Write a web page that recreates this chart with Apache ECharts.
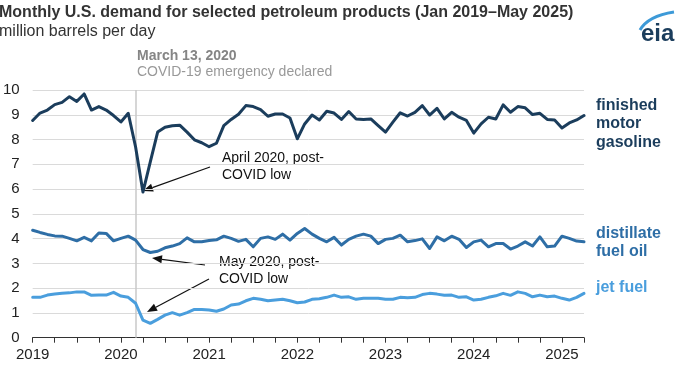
<!DOCTYPE html>
<html>
<head>
<meta charset="utf-8">
<script src="https://cdn.jsdelivr.net/npm/echarts@6/dist/echarts.min.js"></script>
<style>html,body{margin:0;padding:0;background:#fff}#c{width:678px;height:381px}</style>
</head>
<body>
<div id="c"></div>
<script>
// Categories: monthly, Jan 2019 – Apr 2025
const months = [];
for (let y = 2019; y <= 2025; y++) {
  for (let m = 1; m <= 12; m++) {
    if (y === 2025 && m > 4) break;
    months.push(y + '-' + (m < 10 ? '0' + m : m));
  }
}
const yTicks = [0,1,2,3,4,5,6,7,8,9,10];

const gasoline = [8.77,9.07,9.19,9.41,9.50,9.73,9.54,9.84,9.19,9.33,9.19,8.97,
  8.71,9.06,7.70,5.88,7.10,8.30,8.50,8.56,8.58,8.30,7.99,7.87,
  7.71,7.85,8.56,8.81,9.02,9.37,9.33,9.21,8.94,9.03,9.03,8.87,
  8.03,8.63,8.99,8.79,9.14,9.07,8.81,9.13,8.83,8.81,8.83,8.56,
  8.30,8.70,9.08,8.95,9.10,9.37,8.99,9.26,8.83,9.10,8.90,8.77,
  8.26,8.63,8.90,8.83,9.40,9.10,9.33,9.28,9.01,9.06,8.81,8.79,
  8.47,8.67,8.79,8.97];
const distillate = [4.34,4.25,4.17,4.11,4.10,4.01,3.91,4.05,3.91,4.23,4.21,3.91,
  4.01,4.10,3.94,3.56,3.44,3.49,3.63,3.70,3.80,4.03,3.87,3.87,
  3.92,3.95,4.10,4.01,3.89,3.97,3.67,4.01,4.07,3.97,4.18,3.94,
  4.21,4.41,4.18,4.01,3.87,4.05,3.74,3.97,4.10,4.18,4.10,3.80,
  3.97,4.01,4.14,3.87,3.92,3.99,3.60,4.07,3.91,4.10,3.97,3.64,
  3.87,3.94,3.67,3.80,3.80,3.58,3.70,3.87,3.70,4.07,3.67,3.70,
  4.10,4.01,3.90,3.87];
const jetFuel = [1.63,1.63,1.72,1.76,1.79,1.81,1.85,1.85,1.71,1.72,1.72,1.83,
  1.68,1.63,1.39,0.71,0.58,0.74,0.91,1.01,0.91,1.01,1.14,1.14,
  1.12,1.07,1.16,1.32,1.36,1.49,1.59,1.55,1.49,1.52,1.55,1.49,
  1.41,1.44,1.55,1.57,1.63,1.72,1.63,1.65,1.55,1.59,1.59,1.59,
  1.55,1.55,1.63,1.61,1.63,1.74,1.79,1.76,1.71,1.72,1.63,1.65,
  1.52,1.55,1.63,1.69,1.79,1.71,1.85,1.79,1.65,1.72,1.65,1.68,
  1.59,1.52,1.63,1.79];

const covidMonth = '2020-03';
const C_GAS = '#1b3d5c', C_DIST = '#2e6ea6', C_JET = '#4a9edd';
const FONT = 'Liberation Sans, Arial, sans-serif';

function arrow(x1, y1, x2, y2) {
  const a = Math.atan2(y2 - y1, x2 - x1), L = 10, W = 4;
  const bx = x2 - L * Math.cos(a), by = y2 - L * Math.sin(a);
  const px = -Math.sin(a) * W, py = Math.cos(a) * W;
  return [
    { type: 'line', shape: { x1: x1, y1: y1, x2: bx, y2: by }, style: { stroke: '#111', lineWidth: 1.2 } },
    { type: 'polygon', shape: { points: [[x2, y2], [bx + px, by + py], [bx - px, by - py]] }, style: { fill: '#111' } }
  ];
}

const chart = echarts.init(document.getElementById('c'));
const line = (name, data, color) => ({
  name, type: 'line', data, showSymbol: false, symbol: 'none', smooth: false,
  lineStyle: { color, width: 3, join: 'round', cap: 'round' }, itemStyle: { color }, z: 3
});

chart.setOption({
  animation: false,
  textStyle: { fontFamily: FONT },
  title: {
    text: 'Monthly U.S. demand for selected petroleum products (Jan 2019–May 2025)',
    subtext: 'million barrels per day',
    left: -1, top: 5, padding: 0, itemGap: 3,
    textStyle: { fontSize: 16, fontWeight: 'bold', color: '#333', fontFamily: FONT },
    subtextStyle: { fontSize: 16, color: '#333', fontFamily: FONT }
  },
  grid: { left: 30.7, right: 94, top: 90, bottom: 43.3, containLabel: false },
  xAxis: {
    type: 'category', data: months, boundaryGap: false,
    axisLine: { lineStyle: { color: '#333', width: 1.2 } },
    axisTick: { show: true, interval: (i) => i % 3 === 0, length: 5, lineStyle: { color: '#333' } },
    axisLabel: { interval: (i) => i % 12 === 0, formatter: (v) => v.slice(0, 4), fontSize: 15, color: '#222', margin: 10, fontFamily: FONT },
    splitLine: { show: false }
  },
  yAxis: {
    type: 'value', min: yTicks[0], max: yTicks[yTicks.length - 1], interval: 1,
    axisLine: { show: false }, axisTick: { show: false },
    axisLabel: { fontSize: 15, color: '#222', margin: 13, fontFamily: FONT },
    splitLine: { lineStyle: { color: '#dadada', width: 1 } }
  },
  series: [
    Object.assign(line('finished motor gasoline', gasoline, C_GAS), {
      markLine: {
        silent: true, symbol: 'none', label: { show: false },
        lineStyle: { color: '#c8c8c8', width: 1.5, type: 'solid' },
        data: [{ xAxis: covidMonth }], z: 1
      }
    }),
    line('distillate fuel oil', distillate, C_DIST),
    line('jet fuel', jetFuel, C_JET)
  ],
  graphic: [
    { type: 'text', left: 137, top: 49, style: { text: 'March 13, 2020', font: 'bold 14px ' + FONT, fill: '#858585' } },
    { type: 'text', left: 137, top: 65, style: { text: 'COVID-19 emergency declared', font: '14px ' + FONT, fill: '#999' } },
    { type: 'text', left: 222, top: 150, style: { text: 'April 2020, post-\nCOVID low', font: '14px ' + FONT, fill: '#111', lineHeight: 17 } },
    { type: 'text', left: 219, top: 254, style: { text: 'May 2020, post-\nCOVID low', font: '14px ' + FONT, fill: '#111', lineHeight: 17 } },
    { type: 'text', left: 596, top: 96, style: { text: 'finished\nmotor\ngasoline', font: 'bold 16px ' + FONT, fill: C_GAS, lineHeight: 18.5 } },
    { type: 'text', left: 596, top: 224, style: { text: 'distillate\nfuel oil', font: 'bold 16px ' + FONT, fill: C_DIST, lineHeight: 18.5 } },
    { type: 'text', left: 596, top: 280, style: { text: 'jet fuel', font: 'bold 16px ' + FONT, fill: C_JET } },
    // eia logo
    { type: 'text', left: 641, top: 22, style: { text: 'eia', font: 'bold 24px ' + FONT, fill: '#1b3d5c' } },
    { type: 'bezierCurve', shape: { x1: 640, y1: 30, cpx1: 648, cpy1: 16, x2: 674, y2: 12 }, style: { stroke: '#3d9ad8', lineWidth: 3, fill: null } }
  ].concat(arrow(210, 167, 143, 191), arrow(205, 265, 152, 258), arrow(209, 279, 147, 312))
});
</script>
</body>
</html>
